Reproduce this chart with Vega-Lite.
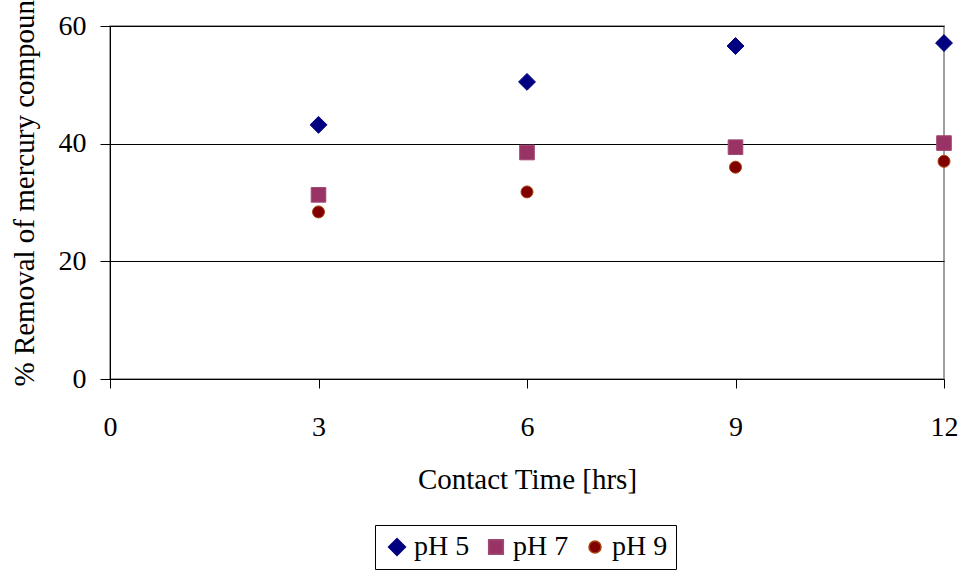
{
  "$schema": "https://vega.github.io/schema/vega-lite/v6.json",
  "autosize": {"type": "none"},
  "padding": {"left": 110, "top": 26, "right": 18, "bottom": 196},
  "width": 834,
  "height": 353,
  "background": "#ffffff",
  "config": {
    "font": "Liberation Serif",
    "view": {"stroke": "#808080", "strokeWidth": 1.5},
    "axis": {
      "labelFont": "Liberation Serif",
      "titleFont": "Liberation Serif",
      "labelFontSize": 28,
      "titleFontSize": 29,
      "titleFontWeight": "normal",
      "labelColor": "#000000",
      "titleColor": "#000000",
      "domainColor": "#000000",
      "tickColor": "#000000",
      "gridColor": "#000000",
      "gridOpacity": 1,
      "domainWidth": 1,
      "tickWidth": 1,
      "gridWidth": 1
    },
    "legend": {
      "labelFont": "Liberation Serif",
      "labelFontSize": 28,
      "labelColor": "#000000"
    }
  },
  "data": {
    "values": [
      {"time": 3, "removal": 43.2, "series": "pH 5"},
      {"time": 6, "removal": 50.5, "series": "pH 5"},
      {"time": 9, "removal": 56.6, "series": "pH 5"},
      {"time": 12, "removal": 57.1, "series": "pH 5"},
      {"time": 3, "removal": 31.3, "series": "pH 7"},
      {"time": 6, "removal": 38.5, "series": "pH 7"},
      {"time": 9, "removal": 39.4, "series": "pH 7"},
      {"time": 12, "removal": 40.1, "series": "pH 7"},
      {"time": 3, "removal": 28.4, "series": "pH 9"},
      {"time": 6, "removal": 31.8, "series": "pH 9"},
      {"time": 9, "removal": 36.0, "series": "pH 9"},
      {"time": 12, "removal": 37.0, "series": "pH 9"}
    ]
  },
  "mark": {"type": "point", "filled": true, "opacity": 1, "strokeWidth": 1},
  "encoding": {
    "x": {
      "field": "time",
      "type": "quantitative",
      "scale": {"domain": [0, 12], "nice": false, "zero": true},
      "axis": {
        "title": "Contact Time [hrs]",
        "values": [0, 3, 6, 9, 12],
        "grid": false,
        "tickSize": 9,
        "labelBaseline": "alphabetic",
        "labelPadding": 47,
        "labelFlush": false,
        "labelOverlap": false,
        "titleBaseline": "alphabetic",
        "titleY": 109
      }
    },
    "y": {
      "field": "removal",
      "type": "quantitative",
      "scale": {"domain": [0, 60], "nice": false},
      "axis": {
        "title": "% Removal of mercury compound",
        "values": [0, 20, 40, 60],
        "grid": true,
        "tickSize": 10,
        "labelPadding": 14,
        "labelFlush": false,
        "labelOverlap": false,
        "titleAngle": 270,
        "titleAlign": "left",
        "titleBaseline": "alphabetic",
        "titleX": -77,
        "titleY": 360
      }
    },
    "color": {
      "field": "series",
      "type": "nominal",
      "title": null,
      "scale": {"domain": ["pH 5", "pH 7", "pH 9"], "range": ["#000080", "#993366", "#800000"]},
      "legend": {
        "orient": "none",
        "legendX": 265,
        "legendY": 499,
        "direction": "horizontal",
        "columns": 3,
        "padding": 8,
        "strokeColor": "#000000",
        "labelOffset": 3,
        "columnPadding": 12
      }
    },
    "stroke": {
      "field": "series",
      "type": "nominal",
      "title": null,
      "scale": {"domain": ["pH 5", "pH 7", "pH 9"], "range": ["#000080", "#a04a76", "#a8420c"]}
    },
    "shape": {
      "field": "series",
      "type": "nominal",
      "title": null,
      "scale": {"domain": ["pH 5", "pH 7", "pH 9"], "range": ["diamond", "square", "circle"]}
    },
    "size": {
      "field": "series",
      "type": "nominal",
      "title": null,
      "scale": {"domain": ["pH 5", "pH 7", "pH 9"], "range": [285, 144, 135]}
    }
  }
}
